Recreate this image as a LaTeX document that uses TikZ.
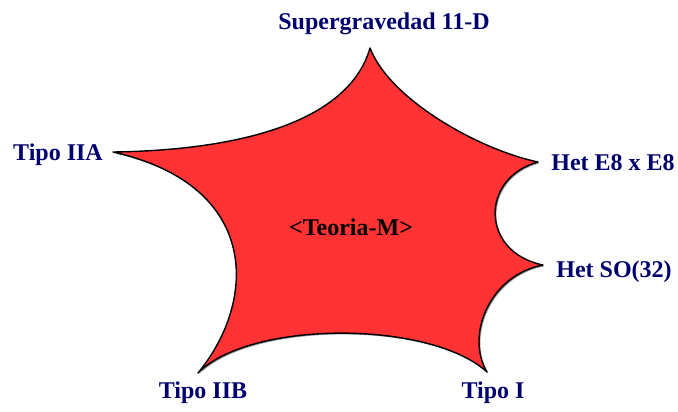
\documentclass[tikz,border=0pt]{standalone}
\usepackage{fontspec}
\setmainfont{Liberation Serif}
\usepackage{xcolor}
\usepackage{tikz}
\usetikzlibrary{shadows}
\definecolor{starred}{RGB}{255,51,51}
\definecolor{labelblue}{RGB}{0,0,110}

\begin{document}
\begin{tikzpicture}[x=1pt, y=-1pt,
        vertexlabel/.style={text=labelblue, font=\fontsize{24}{28}\selectfont\bfseries, inner sep=0pt, anchor=base}]
        \useasboundingbox (0,0) rectangle (678,412);

        % Vertices
        \coordinate (top) at (370,48);
        \coordinate (e8) at (538,162);
        \coordinate (so) at (543,265);
        \coordinate (ti) at (487,372);
        \coordinate (iib) at (198,373);
        \coordinate (iia) at (113,152);

        % Star
        \draw[line width=1.4pt, line join=round, fill=starred,
              drop shadow={shadow xshift=1.3pt, shadow yshift=-1.3pt, opacity=0.45, fill=black}]
            (iia) .. controls (250,150) and (350,118) .. (top)
                  .. controls (390,100) and (480,150) .. (e8)
                  .. controls (480,178) and (480,252) .. (so)
                  .. controls (490,275) and (465,335) .. (ti)
                  .. controls (430,320) and (250,320) .. (iib)
                  .. controls (258,300) and (260,185) .. (iia) -- cycle;

        % Labels
        \node[vertexlabel] (lsugra) at (384,30) {Supergravedad 11-D};
        \node[vertexlabel] (liia) at (58,160) {Tipo IIA};
        \node[vertexlabel] (le8) at (613,170) {Het E8 x E8};
        \node[vertexlabel] (lso) at (614,277) {Het SO(32)};
        \node[vertexlabel] (liib) at (203,398) {Tipo IIB};
        \node[vertexlabel] (lti) at (493,398) {Tipo I};
        \node[vertexlabel, text=black] (lteoria) at (351,235) {<Teoria-M>};
    \end{tikzpicture}
\end{document}
